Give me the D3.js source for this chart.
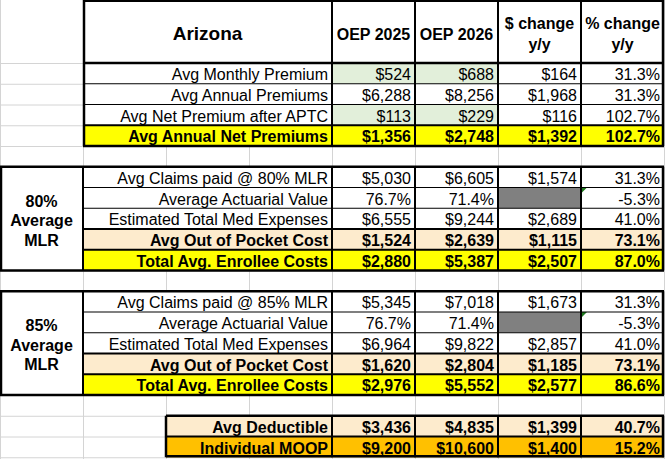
<!DOCTYPE html>
<html><head><meta charset="utf-8">
<script src="https://cdn.jsdelivr.net/npm/d3@7"></script>
<style>html,body{margin:0;padding:0;background:#fff;}svg{display:block;font-family:Arial,"Liberation Sans",sans-serif;}</style>
</head><body>
<script>
// ---------- data ----------
const title = "Arizona";
const headers = [["OEP 2025"], ["OEP 2026"], ["$ change", "y/y"], ["% change", "y/y"]];
const labels = [
  "Avg Monthly Premium", "Avg Annual Premiums", "Avg Net Premium after APTC", "Avg Annual Net Premiums",
  "Avg Claims paid @ 80% MLR", "Average Actuarial Value", "Estimated Total Med Expenses", "Avg Out of Pocket Cost", "Total Avg. Enrollee Costs",
  "Avg Claims paid @ 85% MLR", "Average Actuarial Value", "Estimated Total Med Expenses", "Avg Out of Pocket Cost", "Total Avg. Enrollee Costs",
  "Avg Deductible", "Individual MOOP"
];
const oep2025 = [524, 6288, 113, 1356, 5030, 0.767, 6555, 1524, 2880, 5345, 0.767, 6964, 1620, 2976, 3436, 9200];
const oep2026 = [688, 8256, 229, 2748, 6605, 0.714, 9244, 2639, 5387, 7018, 0.714, 9822, 2804, 5552, 4835, 10600];
const changeDollar = [164, 1968, 116, 1392, 1574, null, 2689, 1115, 2507, 1673, null, 2857, 1185, 2577, 1399, 1400];
const changePct = [0.313, 0.313, 1.027, 1.027, 0.313, -0.053, 0.410, 0.731, 0.870, 0.313, -0.053, 0.410, 0.731, 0.866, 0.407, 0.152];
const valueKind = ["$","$","$","$", "$","%","$","$","$", "$","%","$","$","$", "$","$"];
const sectionLabels = [["80%", "Average", "MLR"], ["85%", "Average", "MLR"]];
// grid row index of each data row (row 0 = first row under the header)
const gridRow = [0,1,2,3, 5,6,7,8,9, 11,12,13,14,15, 17,18];
const rowStyle = ["plain","plain","plain","yellow", "plain","plain","plain","peach","yellow", "plain","plain","plain","peach","yellow", "peach","orange"];
const greenRows = [0, 2];

// ---------- layout ----------
const W = 665, H = 459;
const headerH = 63, rowH = 20.75, colW = 83;
const fills = {plain: "#ffffff", yellow: "#ffff00", peach: "#fdebcd", orange: "#ffc000"};
const X = d3.scaleLinear().domain([0, 8]).range([0, colW * 8]);
const Y = d3.scaleLinear().domain([0, 19]).range([headerH, headerH + rowH * 19]);
const loc = d3.formatLocale({decimal: ".", thousands: ",", grouping: [3], currency: ["$", ""], minus: "-"});
const fmtD = loc.format("$,");
const fmtP = loc.format(".1%");

const svg = d3.select("body").append("svg").attr("width", W).attr("height", H);

// spreadsheet gridlines
const g0 = svg.append("g").attr("stroke", "#d4d4d4").attr("stroke-width", 1);
d3.range(0, 9).forEach(c => g0.append("line").attr("x1", X(c) + 0.5).attr("x2", X(c) + 0.5).attr("y1", 0).attr("y2", H));
d3.range(0, 20).forEach(r => g0.append("line").attr("x1", 0).attr("x2", W).attr("y1", Y(r) + 0.5).attr("y2", Y(r) + 0.5));

// cells
const cells = svg.append("g");
const lines = svg.append("g").attr("stroke", "#000");
const texts = svg.append("g").attr("fill", "#000");

function rect(x0, y0, x1, y1, fill) {
  cells.append("rect").attr("x", x0).attr("y", y0).attr("width", x1 - x0).attr("height", y1 - y0).attr("fill", fill);
}
function hline(x0, x1, y, w) { lines.append("line").attr("x1", x0).attr("x2", x1).attr("y1", y).attr("y2", y).attr("stroke-width", w); }
function vline(x, y0, y1, w) { lines.append("line").attr("x1", x).attr("x2", x).attr("y1", y0).attr("y2", y1).attr("stroke-width", w); }
function text(x, y, s, opts) {
  const t = texts.append("text").attr("x", x).attr("y", y).text(s)
    .attr("font-size", opts.size || 16).attr("text-anchor", opts.anchor || "end");
  if (opts.bold) t.attr("font-weight", "bold");
  return t;
}

// header
rect(X(1), 0, X(8), headerH, "#fff");
text((X(1) + X(4)) / 2, 40, title, {size: 19, bold: true, anchor: "middle"});
headers.forEach((h, i) => {
  const cx = (X(4 + i) + X(5 + i)) / 2;
  if (h.length === 1) text(cx, 39.5, h[0], {bold: true, anchor: "middle"});
  else { text(cx, 29, h[0], {bold: true, anchor: "middle"}); text(cx, 50, h[1], {bold: true, anchor: "middle"}); }
});

// data rows
labels.forEach((lab, i) => {
  const r = gridRow[i], y0 = Y(r), y1 = Y(r + 1);
  const style = rowStyle[i], bold = style !== "plain";
  const labX0 = i >= 14 ? X(2) : X(1);
  rect(labX0, y0, X(8), y1, fills[style]);
  if (greenRows.includes(i)) rect(X(4), y0, X(6), y1, "#e2efda");
  const base = y0 + 17;
  text(X(4) - 4, base, lab, {bold});
  const f = valueKind[i] === "%" ? fmtP : fmtD;
  text(X(5) - 4, base, f(oep2025[i]), {bold});
  text(X(6) - 4, base, f(oep2026[i]), {bold});
  if (changeDollar[i] === null) {
    rect(X(6), y0, X(7), y1, "#808080");
    cells.append("path").attr("d", `M${X(7)},${y0} l6,0 l-6,6 z`).attr("fill", "#1f7a1f");
  } else text(X(7) - 4, base, fmtD(changeDollar[i]), {bold});
  text(X(8) - 4, base, fmtP(changePct[i]), {bold});
});

// section label cells
[[5, 10], [11, 16]].forEach(([a, b], k) => {
  rect(X(0), Y(a), X(1), Y(b), "#fff");
  const cy = (Y(a) + Y(b)) / 2 + 7.5;
  sectionLabels[k].forEach((s, j) => text(X(0.5), cy + (j - 1) * 19.5, s, {bold: true, anchor: "middle"}));
});

// borders
const R = X(8) - 1;
// header + top block
hline(X(1), R + 1, 1, 2);
hline(X(1), R + 1, headerH, 2.5);
[1, 2, 3].forEach(r => hline(X(1), R, Y(r), r === 3 ? 2 : 1.2));
hline(X(1), R + 1, Y(4), 2.5);
vline(X(1) + 1, 0, Y(4), 2.5);
vline(R, 0, Y(4), 2.5);
[4, 5, 6, 7].forEach(c => vline(X(c), 0, Y(4), 2));
// MLR blocks
[5, 11].forEach(a => {
  hline(X(0), R + 1, Y(a), 2.5);
  hline(X(1), R, Y(a + 1), 1.2);
  hline(X(1), R, Y(a + 2), 1.2);
  hline(X(1), R, Y(a + 3), 2);
  hline(X(1), R, Y(a + 4), 2);
  hline(X(0), R + 1, Y(a + 5), 2.5);
  vline(X(0) + 1, Y(a), Y(a + 5), 2.5);
  vline(X(1), Y(a), Y(a + 5), 2);
  vline(R, Y(a), Y(a + 5), 2.5);
  [4, 5, 6, 7].forEach(c => vline(X(c), Y(a), Y(a + 5), 2));
});
// bottom block
hline(X(2), R + 1, Y(17), 2.5);
hline(X(2), R, Y(18), 2);
hline(X(2), R + 1, Y(19) - 1, 2.5);
vline(X(2), Y(17), Y(19), 2.5);
vline(R, Y(17), Y(19), 2.5);
[4, 5, 6, 7].forEach(c => vline(X(c), Y(17), Y(19), 2));
</script>
</body></html>
